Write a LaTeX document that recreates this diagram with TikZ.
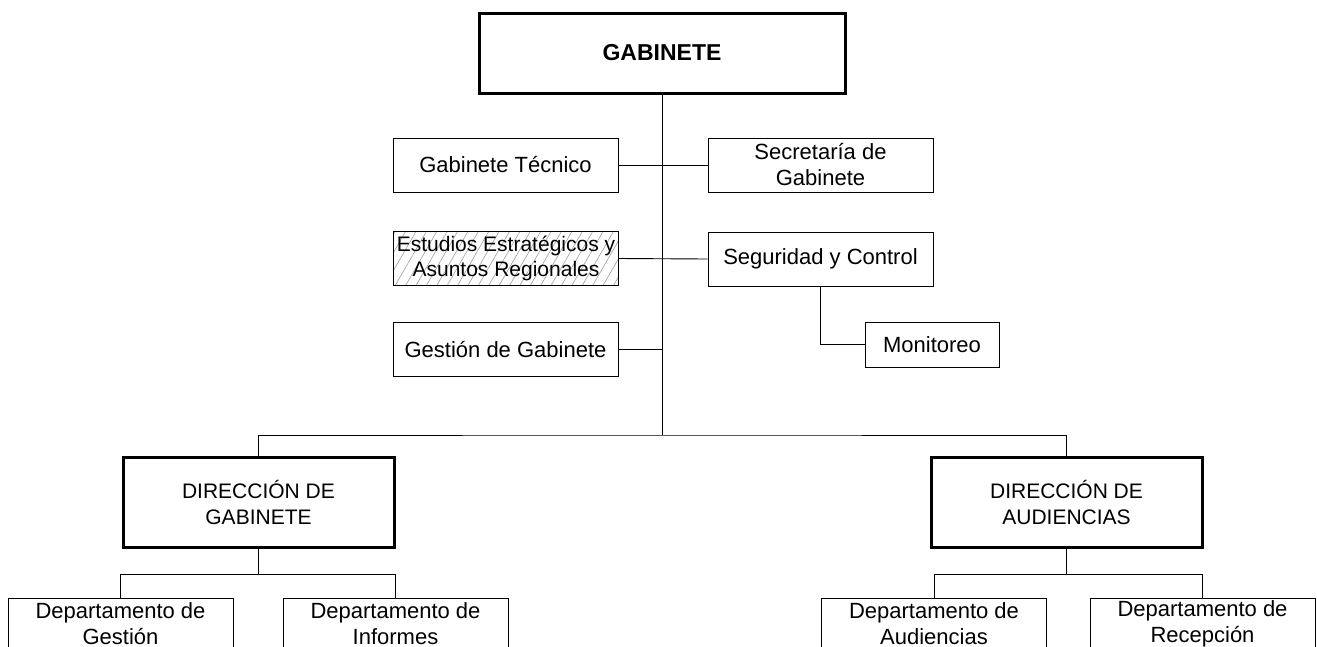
\documentclass[tikz,border=0pt]{standalone}
\usepackage{fontspec}
\setmainfont{Liberation Sans}
\usetikzlibrary{patterns.meta}
\begin{document}
\begin{tikzpicture}[x=1pt,y=-1pt,
  box/.style={draw=black,line width=0.9pt,rectangle,inner sep=0pt,align=center,
    font=\fontsize{22}{26}\selectfont,minimum width=225pt,minimum height=54pt,fill=white},
  bigbox/.style={box,line width=3pt},
  deptbox/.style={box,minimum height=51pt,anchor=north},
  hatch/.style={box,pattern={Lines[angle=60,distance=9pt,line width=0.6pt]},pattern color=gray!75},
  conn/.style={draw=black,line width=0.9pt}]
\useasboundingbox (0,0) rectangle (1317,646);
\clip (0,0) rectangle (1317,646);
\fill[white] (0,0) rectangle (1317,646);

% nodes
\node[bigbox,minimum width=366pt,minimum height=80pt,font=\fontsize{23}{27}\selectfont\bfseries] (gab) at (662,53) {GABINETE};
\node[box] (tec) at (505.5,165) {Gabinete Técnico};
\node[box] (sec) at (820.5,165) {Secretaría de\\Gabinete};
\node[hatch,font=\fontsize{21}{25}\selectfont] (est) at (506,258.5) {Estudios Estratégicos y\\Asuntos Regionales};
\node[box] (seg) at (820.5,259) {Seguridad y Control};
\node[box] (ges) at (505.5,349.5) {Gestión de Gabinete};
\node[box,minimum width=134pt,minimum height=45pt] (mon) at (932,344.5) {Monitoreo};
\node[bigbox,minimum width=271pt,minimum height=90pt,font=\fontsize{21}{26}\selectfont] (dg) at (258.5,502) {DIRECCIÓN DE\\GABINETE};
\node[bigbox,minimum width=271pt,minimum height=90pt,font=\fontsize{21}{26}\selectfont] (da) at (1066.5,502) {DIRECCIÓN DE\\AUDIENCIAS};
\node[deptbox] (d1) at (120.5,598) {Departamento de\\Gestión};
\node[deptbox] (d2) at (395.5,598) {Departamento de\\Informes};
\node[deptbox] (d3) at (934,598) {Departamento de\\Audiencias};
\node[deptbox] (d4) at (1202.5,598) {Departamento de\\Recepción};

% connectors
\coordinate (bar) at (662,435);
\coordinate (gesj) at (662,349.5);
\coordinate (dgb) at (258.5,574);
\coordinate (dab) at (1066.5,574);
\draw[conn] (gab.south) -- (bar);
\draw[conn] (tec.east) -- (sec.west);
\draw[conn] (est.east) -- (seg.west);
\draw[conn] (ges.east) -- (gesj);
\draw[conn] (seg.south) |- (mon.west);
\draw[conn] (dg.north) |- (bar) -| (da.north);
\draw[conn] (dg.south) -- (dgb);
\draw[conn] (d1.north) |- (dgb) -| (d2.north);
\draw[conn] (da.south) -- (dab);
\draw[conn] (d3.north) |- (dab) -| (d4.north);
\end{tikzpicture}
\end{document}
